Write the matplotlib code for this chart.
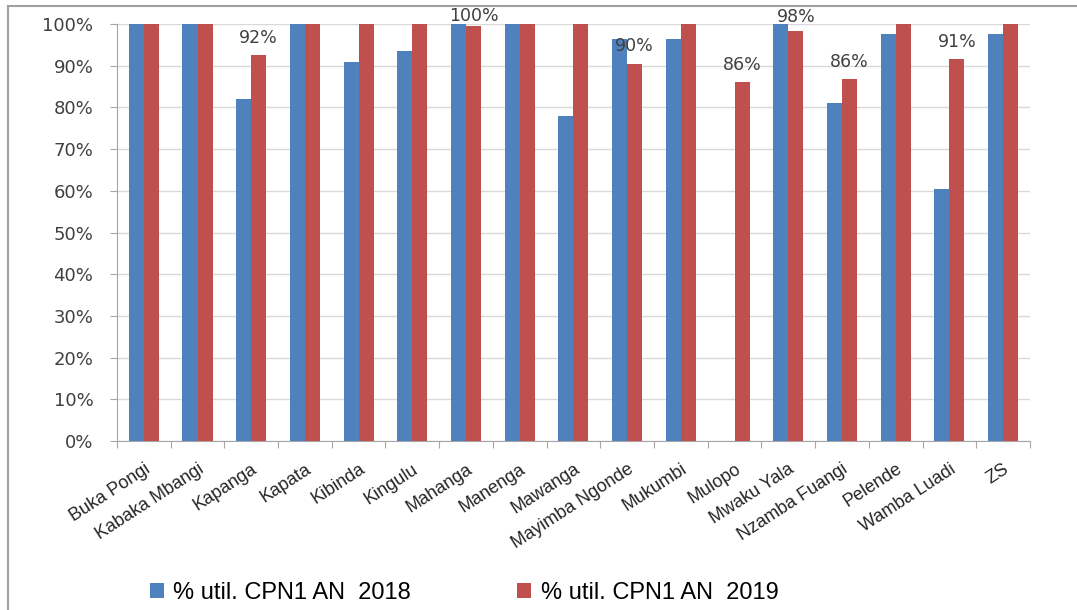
import numpy as np
import matplotlib
matplotlib.use("Agg")
import matplotlib.pyplot as plt
from matplotlib.patches import Rectangle
from matplotlib.ticker import PercentFormatter

zones = ["Buka Pongi", "Kabaka Mbangi", "Kapanga", "Kapata", "Kibinda", "Kingulu",
         "Mahanga", "Manenga", "Mawanga", "Mayimba Ngonde", "Mukumbi", "Mulopo",
         "Mwaku Yala", "Nzamba Fuangi", "Pelende", "Wamba Luadi", "ZS"]
util_2018 = [100, 100, 82, 100, 91, 93.5, 100, 100, 78, 96.5, 96.5, 0,
             100, 81, 97.5, 60.5, 97.5]
util_2019 = [100, 100, 92.5, 100, 100, 100, 99.6, 100, 100, 90.5, 100, 86,
             98.3, 86.7, 100, 91.5, 100]
# labels shown above some 2019 bars
labels_2019 = {"Kapanga": "92%", "Mahanga": "100%", "Mayimba Ngonde": "90%",
               "Mulopo": "86%", "Mwaku Yala": "98%", "Nzamba Fuangi": "86%",
               "Wamba Luadi": "91%"}

blue = "#4f81bd"
red = "#c0504d"

fig = plt.figure(figsize=(10.77, 6.10), dpi=100)
ax = fig.add_axes([0.1086, 0.277, 0.8477, 0.6836])

x = np.arange(len(zones))
w = 0.28
ax.bar(x - w / 2, util_2018, w, color=blue, label="% util. CPN1 AN  2018", zorder=3)
ax.bar(x + w / 2, util_2019, w, color=red, label="% util. CPN1 AN  2019", zorder=3)

for i, z in enumerate(zones):
    if z in labels_2019:
        off = {"Mahanga": 0.5, "Mwaku Yala": 4}.get(z, 6)
        ax.annotate(labels_2019[z], (x[i] + w / 2, util_2019[i]),
                    xytext=(0, off), textcoords="offset points",
                    ha="center", va="bottom", fontsize=12.5, color="#404040",
                    family="DejaVu Sans")

ax.set_xlim(-0.5, len(zones) - 0.5)
ax.set_ylim(0, 100)
ax.set_yticks(np.arange(0, 101, 10))
ax.yaxis.set_major_formatter(PercentFormatter(decimals=0))
ax.grid(axis="y", color="#d9d9d9", linewidth=1, zorder=0)

ax.set_xticks(np.arange(-0.5, len(zones), 1), minor=False)
ax.set_xticklabels([])
ax.set_xticks(x, minor=True)
ax.set_xticklabels(zones, minor=True, rotation=33, ha="right",
                   rotation_mode="anchor", fontsize=13, family="Liberation Sans",
                   color="#262626")
ax.tick_params(axis="x", which="minor", length=0, pad=14)
ax.tick_params(axis="x", which="major", length=5, color="#a6a6a6", direction="out")
ax.tick_params(axis="y", length=5, pad=12, color="#a6a6a6", labelsize=13,
               labelcolor="#404040")

for s in ["top", "right"]:
    ax.spines[s].set_visible(False)
for s in ["left", "bottom"]:
    ax.spines[s].set_color("#a6a6a6")

fig.legend(loc="center left", bbox_to_anchor=(0.139, 0.028), ncol=2, frameon=False,
           handlelength=0.6, handleheight=0.6, columnspacing=4.5,
           handletextpad=0.4, borderpad=0, borderaxespad=0,
           prop={"family": "Liberation Sans", "size": 17})

fig.patches.append(Rectangle((8 / 1077, -0.1), 1.2, 1 - 6 / 610 + 0.1,
                             transform=fig.transFigure, fill=False,
                             edgecolor="#a0a0a0", linewidth=1.5))

fig.savefig("out.png", dpi=100)
